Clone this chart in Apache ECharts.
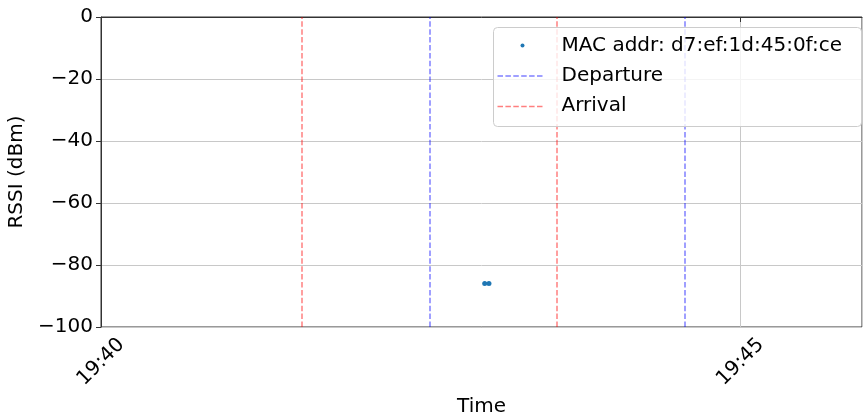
<!DOCTYPE html>
<html>
<head>
<meta charset="utf-8">
<script src="https://cdn.jsdelivr.net/npm/echarts@6/dist/echarts.min.js"></script>
<style>html,body{margin:0;padding:0;background:#fff}#c{width:863px;height:416px}</style>
</head>
<body>
<div id="c"></div>
<script>
// Data (times as HH:MM:SS)
const axisStart = '19:40:00';
const axisEnd = '19:45:57';
const xTickStep = 300; // seconds
const scanTimes = ['19:43:00', '19:43:02'];
const rssiValues = [-86, -86];
const departureTimes = ['19:42:34', '19:44:34'];
const arrivalTimes = ['19:41:34', '19:43:34'];
const yTicks = [0, -20, -40, -60, -80, -100];
const seriesName = 'MAC addr: d7:ef:1d:45:0f:ce';

function toSec(t) {
  const p = t.split(':').map(Number);
  return p[0] * 3600 + p[1] * 60 + (p[2] || 0);
}
const t0 = toSec(axisStart);
const rel = t => toSec(t) - t0;
function fmt(s) {
  const tot = t0 + Math.round(s);
  const h = Math.floor(tot / 3600), m = Math.floor((tot % 3600) / 60);
  return String(h).padStart(2, '0') + ':' + String(m).padStart(2, '0');
}

const FONT = 'DejaVu Sans';
const blue = 'rgba(0,0,255,0.5)';
const red = 'rgba(255,0,0,0.5)';
const dash = [5.5, 2.4];

const chart = echarts.init(document.getElementById('c'));
chart.setOption({
  animation: false,
  grid: {left: 101, right: 1, top: 17, bottom: 89, show: true, borderColor: '#333', borderWidth: 1, outerBoundsMode: 'none'},
  xAxis: {
    type: 'value', min: 0, max: rel(axisEnd), interval: xTickStep,
    name: 'Time', nameLocation: 'middle', nameGap: 68,
    nameTextStyle: {fontSize: 20, color: '#000', fontFamily: FONT},
    axisLine: {lineStyle: {color: '#333'}},
    axisTick: {show: true, length: 5, lineStyle: {color: '#333'}},
    axisLabel: {rotate: 45, align: 'center', verticalAlign: 'middle', margin: 35, lineHeight: 14, fontSize: 20, color: '#000', fontFamily: FONT, showMaxLabel: false, formatter: v => fmt(v)},
    splitLine: {show: true, lineStyle: {color: '#c8c8c8'}}
  },
  yAxis: {
    type: 'value', min: yTicks[yTicks.length - 1], max: yTicks[0], interval: 20,
    name: 'RSSI (dBm)', nameLocation: 'middle', nameGap: 72,
    nameTextStyle: {fontSize: 20, color: '#000', fontFamily: FONT},
    axisLine: {show: true, lineStyle: {color: '#333'}},
    axisTick: {show: true, length: 5, lineStyle: {color: '#333'}},
    axisLabel: {fontSize: 20, lineHeight: 12, color: '#000', margin: 8, fontFamily: FONT, formatter: v => String(v).replace('-', '\u2212')},
    splitLine: {show: true, lineStyle: {color: '#c8c8c8'}}
  },
  series: [
    {
      name: seriesName, type: 'scatter', symbolSize: 5,
      itemStyle: {color: '#1f77b4', opacity: 1},
      data: scanTimes.map((t, i) => [rel(t), rssiValues[i]]), z: 5
    },
    {
      name: 'Departure', type: 'line', data: [], z: 2,
      markLine: {silent: true, symbol: ['none', 'none'], label: {show: false}, z: 2,
        lineStyle: {color: blue, type: dash, width: 1.5},
        data: departureTimes.map(t => ({xAxis: rel(t)}))}
    },
    {
      name: 'Arrival', type: 'line', data: [], z: 2,
      markLine: {silent: true, symbol: ['none', 'none'], label: {show: false}, z: 2,
        lineStyle: {color: red, type: dash, width: 1.5},
        data: arrivalTimes.map(t => ({xAxis: rel(t)}))}
    }
  ],
  graphic: [{
    type: 'group', left: 493, top: 27, z: 100,
    children: [
      {type: 'rect', z: 100, shape: {x: 0, y: 0, width: 368, height: 99, r: 4},
        style: {fill: 'rgba(255,255,255,0.8)', stroke: '#cccccc', lineWidth: 1}},
      {type: 'circle', z: 101, shape: {cx: 29, cy: 18, r: 2}, style: {fill: '#1f77b4'}},
      {type: 'text', z: 101, x: 68, y: 18, style: {text: seriesName, fontSize: 20, fontFamily: FONT, fill: '#000', verticalAlign: 'middle'}},
      {type: 'line', z: 101, shape: {x1: 4, y1: 48.5, x2: 50, y2: 48.5}, style: {stroke: blue, lineWidth: 1.5, lineDash: dash}},
      {type: 'text', z: 101, x: 68, y: 48, style: {text: 'Departure', fontSize: 20, fontFamily: FONT, fill: '#000', verticalAlign: 'middle'}},
      {type: 'line', z: 101, shape: {x1: 4, y1: 79, x2: 50, y2: 79}, style: {stroke: red, lineWidth: 1.5, lineDash: dash}},
      {type: 'text', z: 101, x: 68, y: 78, style: {text: 'Arrival', fontSize: 20, fontFamily: FONT, fill: '#000', verticalAlign: 'middle'}}
    ]
  }]
});
</script>
</body>
</html>
